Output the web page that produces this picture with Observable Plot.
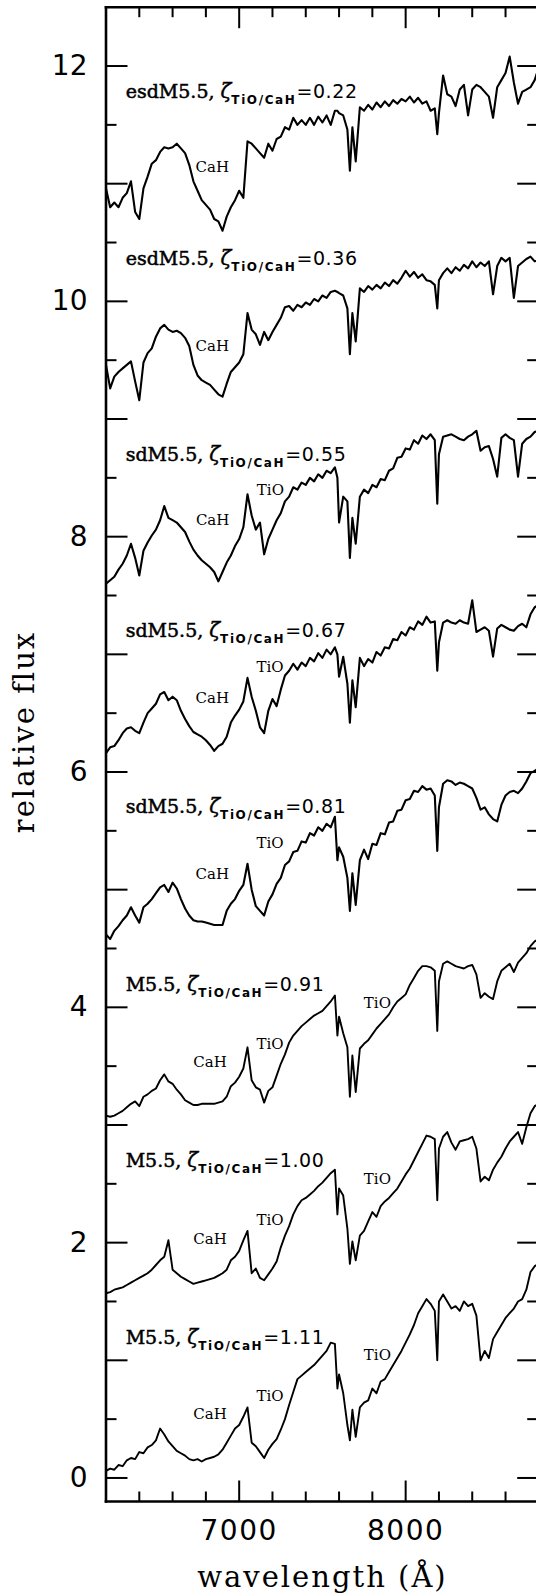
<!DOCTYPE html>
<html>
<head>
<meta charset="utf-8">
<script src="https://cdn.jsdelivr.net/npm/d3@7"></script>
<script src="https://cdn.jsdelivr.net/npm/@observablehq/plot@0.6"></script>
<style>
html, body { margin: 0; padding: 0; background: #fff; overflow: hidden; }
</style>
</head>
<body>
<div id="chart"></div>
<script>
// ---- wavelength grid (Å), shared by all spectra ----
const wavelength = [
  6200,6225,6250,6275,6300,6325,6350,6375,6400,6425,6450,6475,
  6500,6525,6550,6575,6600,6625,6650,6675,6700,6725,6750,6775,
  6800,6825,6850,6875,6900,6925,6950,6975,7000,7025,7050,7075,
  7100,7125,7150,7175,7200,7225,7250,7275,7300,7325,7350,7375,
  7400,7425,7450,7475,7500,7525,7550,7575,
  7590,7600,7625,7650,7665,7680,
  7700,7725,7750,7775,7800,7825,7850,7875,7900,7925,7950,7975,
  8000,8025,8050,8075,8100,8125,8150,8175,
  8190,8200,8225,8250,8275,8300,8325,8350,8375,
  8400,8425,8450,8475,8500,8525,8550,8575,
  8600,8625,8650,8675,8700,8725,8750,8775,8800
];

// ---- relative flux (offset) of each spectrum ----
const fluxEsdM022 = [
  10.96,10.80,10.84,10.80,10.88,10.92,11.02,10.76,10.70,10.96,11.06,11.17,
  11.20,11.27,11.31,11.30,11.31,11.34,11.30,11.26,11.16,11.02,10.94,10.86,
  10.82,10.78,10.70,10.68,10.60,10.72,10.80,10.86,10.94,10.88,11.36,11.34,
  11.30,11.26,11.22,11.34,11.28,11.38,11.40,11.48,11.46,11.56,11.50,11.54,
  11.50,11.56,11.50,11.57,11.52,11.58,11.50,11.62,
  11.62,11.60,11.58,11.46,11.11,11.48,
  11.19,11.65,11.62,11.67,11.63,11.69,11.65,11.70,11.66,11.71,11.68,11.72,
  11.70,11.74,11.69,11.73,11.68,11.70,11.62,11.64,
  11.42,11.60,11.92,11.76,11.74,11.66,11.80,11.84,11.58,
  11.80,11.84,11.82,11.78,11.74,11.56,11.82,11.88,
  11.94,12.08,11.86,11.68,11.78,11.80,11.82,11.88,11.99
];
const fluxEsdM036 = [
  9.46,9.26,9.36,9.40,9.43,9.46,9.49,9.32,9.16,9.48,9.56,9.60,
  9.70,9.77,9.80,9.76,9.74,9.75,9.73,9.69,9.62,9.46,9.37,9.33,
  9.31,9.29,9.25,9.21,9.19,9.30,9.40,9.44,9.48,9.55,9.90,9.76,
  9.72,9.63,9.74,9.67,9.74,9.80,9.86,9.95,9.96,9.92,9.97,9.95,
  9.99,9.97,10.02,10.00,10.05,10.03,10.08,10.09,
  10.08,10.07,10.05,9.94,9.55,9.90,
  9.66,10.11,10.08,10.13,10.10,10.14,10.11,10.16,10.13,10.18,10.15,10.20,
  10.26,10.21,10.25,10.20,10.23,10.18,10.17,10.14,
  9.94,10.18,10.24,10.28,10.24,10.29,10.26,10.31,10.28,
  10.34,10.29,10.33,10.30,10.34,10.06,10.30,10.37,
  10.34,10.37,10.03,10.30,10.33,10.36,10.38,10.34,10.35
];
const fluxSdM055 = [
  7.60,7.63,7.66,7.72,7.77,7.84,7.94,7.82,7.67,7.88,7.95,8.01,
  8.06,8.14,8.26,8.16,8.14,8.12,8.08,8.04,7.96,7.89,7.84,7.80,
  7.77,7.74,7.70,7.62,7.70,7.78,7.84,7.92,7.98,8.08,8.36,8.18,
  8.06,8.12,7.85,7.98,8.06,8.14,8.20,8.30,8.34,8.42,8.40,8.46,
  8.44,8.50,8.47,8.53,8.50,8.56,8.54,8.59,
  8.50,8.12,8.34,8.30,7.82,8.16,
  7.94,8.34,8.40,8.37,8.44,8.42,8.49,8.48,8.56,8.58,8.67,8.68,
  8.75,8.74,8.82,8.79,8.86,8.83,8.87,8.82,
  8.28,8.70,8.85,8.86,8.87,8.85,8.83,8.82,8.85,
  8.87,8.90,8.73,8.76,8.77,8.66,8.51,8.84,
  8.87,8.84,8.82,8.51,8.79,8.83,8.85,8.89,8.90
];
const fluxSdM067 = [
  6.16,6.21,6.22,6.27,6.33,6.37,6.38,6.35,6.33,6.42,6.50,6.54,
  6.58,6.66,6.68,6.61,6.64,6.61,6.52,6.45,6.39,6.34,6.32,6.30,
  6.27,6.23,6.18,6.22,6.24,6.30,6.42,6.48,6.53,6.60,6.80,6.64,
  6.52,6.38,6.33,6.52,6.62,6.56,6.70,6.82,6.86,6.92,6.87,6.93,
  6.90,6.97,6.94,7.01,6.97,7.04,7.00,7.06,
  7.00,6.81,6.98,6.75,6.42,6.78,
  6.55,6.97,6.90,6.96,6.93,7.02,6.99,7.06,7.05,7.13,7.12,7.19,
  7.16,7.23,7.21,7.28,7.25,7.32,7.27,7.28,
  6.86,7.10,7.27,7.29,7.27,7.26,7.29,7.27,7.26,
  7.46,7.19,7.21,7.23,7.20,6.98,7.22,7.25,
  7.23,7.21,7.20,7.24,7.26,7.23,7.34,7.40,7.42
];
const fluxSdM081 = [
  4.62,4.58,4.65,4.69,4.74,4.78,4.85,4.78,4.72,4.85,4.88,4.92,
  4.97,5.02,5.04,4.98,5.06,5.01,4.92,4.84,4.78,4.74,4.73,4.73,
  4.72,4.71,4.70,4.70,4.70,4.82,4.88,4.92,4.99,5.04,5.22,5.00,
  4.86,4.82,4.78,4.90,4.96,5.05,5.10,5.21,5.24,5.32,5.33,5.41,
  5.40,5.48,5.46,5.53,5.50,5.56,5.53,5.62,
  5.25,5.36,5.28,5.10,4.82,5.14,
  4.87,5.25,5.34,5.26,5.39,5.38,5.48,5.47,5.57,5.58,5.67,5.68,
  5.76,5.77,5.84,5.83,5.88,5.85,5.86,5.80,
  5.33,5.70,5.90,5.93,5.92,5.89,5.91,5.90,5.88,
  5.86,5.78,5.68,5.70,5.64,5.60,5.58,5.72,
  5.80,5.83,5.84,5.82,5.86,5.92,5.99,6.01,6.03
];
const fluxM091 = [
  3.08,3.07,3.08,3.10,3.12,3.15,3.18,3.20,3.16,3.24,3.26,3.29,
  3.31,3.38,3.43,3.37,3.35,3.30,3.26,3.21,3.19,3.17,3.17,3.18,
  3.18,3.18,3.18,3.19,3.20,3.24,3.33,3.36,3.41,3.48,3.66,3.38,
  3.32,3.30,3.19,3.29,3.32,3.42,3.52,3.60,3.70,3.76,3.80,3.84,
  3.87,3.90,3.93,3.95,3.97,4.01,4.05,4.10,
  3.76,3.92,3.78,3.66,3.24,3.59,
  3.28,3.65,3.69,3.72,3.77,3.82,3.86,3.90,3.94,4.00,4.05,4.08,
  4.11,4.19,4.25,4.31,4.35,4.35,4.34,4.31,
  3.80,4.22,4.37,4.39,4.37,4.35,4.34,4.33,4.35,
  4.36,4.28,4.08,4.12,4.09,4.07,4.22,4.31,
  4.34,4.37,4.30,4.38,4.42,4.46,4.52,4.56,4.58
];
const fluxM100 = [
  1.57,1.58,1.60,1.61,1.62,1.64,1.66,1.68,1.70,1.72,1.74,1.77,
  1.81,1.85,1.88,2.02,1.77,1.74,1.71,1.69,1.67,1.65,1.66,1.67,
  1.68,1.69,1.70,1.72,1.74,1.77,1.85,1.88,1.93,2.02,2.10,1.74,
  1.78,1.70,1.68,1.73,1.78,1.84,1.96,2.06,2.14,2.24,2.31,2.36,
  2.38,2.41,2.44,2.48,2.51,2.55,2.59,2.62,
  2.24,2.46,2.40,2.12,1.82,2.01,
  1.85,2.06,2.10,2.18,2.26,2.22,2.31,2.35,2.38,2.42,2.46,2.52,
  2.58,2.63,2.70,2.77,2.84,2.91,2.90,2.88,
  2.36,2.80,2.90,2.94,2.85,2.79,2.86,2.87,2.88,
  2.90,2.80,2.52,2.56,2.53,2.62,2.68,2.73,
  2.80,2.86,2.90,2.94,2.84,2.98,3.10,3.16,3.18
];
const fluxM111 = [
  0.06,0.08,0.07,0.11,0.10,0.15,0.17,0.16,0.22,0.21,0.26,0.28,
  0.32,0.42,0.37,0.31,0.27,0.23,0.21,0.19,0.16,0.15,0.16,0.14,
  0.16,0.17,0.18,0.20,0.24,0.30,0.36,0.42,0.45,0.52,0.60,0.30,
  0.27,0.22,0.17,0.24,0.29,0.33,0.41,0.50,0.62,0.73,0.84,0.87,
  0.90,0.93,0.96,1.00,1.04,1.08,1.15,1.14,
  0.76,0.88,0.72,0.45,0.32,0.58,
  0.35,0.60,0.64,0.66,0.76,0.72,0.82,0.84,0.90,0.96,1.02,1.08,
  1.15,1.22,1.30,1.40,1.46,1.52,1.48,1.42,
  1.00,1.50,1.56,1.50,1.44,1.46,1.42,1.50,1.46,
  1.48,1.38,1.00,1.08,1.02,1.18,1.24,1.30,
  1.36,1.40,1.44,1.50,1.52,1.60,1.75,1.80,1.82
];

// ---- spectrum labels ----
const spectralTypes = ["esdM5.5","esdM5.5","sdM5.5","sdM5.5","sdM5.5","M5.5","M5.5","M5.5"];
const zetaValues   = ["0.22","0.36","0.55","0.67","0.81","0.91","1.00","1.11"];
const labelWave    = [6318,6318,6318,6318,6318,6318,6318,6318];
const labelFlux    = [11.73,10.31,8.64,7.15,5.65,4.14,2.64,1.14];

// ---- band annotations ----
const bandText = ["CaH","CaH","CaH","TiO","CaH","TiO","CaH","TiO","CaH","TiO","TiO","CaH","TiO","TiO","CaH","TiO","TiO"];
const bandWave = [6738,6738,6740,7106,6738,7104,6738,7104,6724,7104,7749,6724,7104,7749,6724,7104,7749];
const bandFlux = [11.10,9.58,8.10,8.35,6.59,6.85,5.09,5.35,3.49,3.65,3.99,1.99,2.15,2.50,0.50,0.65,1.00];

// ---- axes ----
const yTickLabels = [0,2,4,6,8,10,12];
const yMajorTicks = [0,1,2,3,4,5,6,7,8,9,10,11,12];
const yMinorTicks = [0.5,1.5,2.5,3.5,4.5,5.5,6.5,7.5,8.5,9.5,10.5,11.5];
const xTickLabels = [7000,8000];
const xMajorTicks = [7000,8000];
const xMinorTicks = [6400,6600,6800,7200,7400,7600,7800,8200,8400,8600];

const fluxSeries = [fluxEsdM022, fluxEsdM036, fluxSdM055, fluxSdM067, fluxSdM081, fluxM091, fluxM100, fluxM111];
const subdwarf = [true, true, true, true, true, false, false, false];
const rows = [];
fluxSeries.forEach((f, k) => {
  if (f.length !== wavelength.length) console.warn("length mismatch", k, f.length);
  wavelength.forEach((w, i) => rows.push({w, f: f[i], k, sd: subdwarf[k]}));
});
const labels = spectralTypes.map((s, i) => ({w: labelWave[i], f: labelFlux[i], t: s + "|" + zetaValues[i]}));
const bands = bandText.map((t, i) => ({w: bandWave[i], f: bandFlux[i], t}));

const tickShape = {draw(ctx, l) { ctx.moveTo(0, 0); ctx.lineTo(0, -l); }};
const tick = (data, ch, frameAnchor, rotate, length) =>
  Plot.vector(data, {[ch]: d => d, frameAnchor, rotate, length, anchor: "start", shape: tickShape,
    stroke: "#000", strokeWidth: 2, strokeLinecap: "butt"});

const svg = Plot.plot({
  width: 536,
  height: 1596,
  marginLeft: 105.5,
  marginRight: 0,
  marginTop: 6.7,
  marginBottom: 95,
  style: {background: "#fff", color: "#000", fontFamily: "DejaVu Sans"},
  x: {domain: [6200, 8786]},
  y: {domain: [-0.2, 12.5]},
  marks: [
    Plot.line(rows.filter(d => d.sd), {x: "w", y: "f", z: "k", stroke: "#000", strokeWidth: 2.1, strokeLinejoin: "round", clip: true}),
    Plot.line(rows.filter(d => !d.sd), {x: "w", y: "f", z: "k", stroke: "#000", strokeWidth: 1.9, strokeLinejoin: "round", clip: true}),
    Plot.frame({anchor: "left", stroke: "#000", strokeWidth: 2.6}),
    Plot.frame({anchor: "top", stroke: "#000", strokeWidth: 2.6}),
    Plot.frame({anchor: "bottom", stroke: "#000", strokeWidth: 2.6}),
    tick(yMajorTicks, "y", "left", 90, 21.5),
    tick(yMinorTicks, "y", "left", 90, 10.5),
    tick(yMajorTicks, "y", "right", -90, 19.3),
    tick(yMinorTicks, "y", "right", -90, 9.3),
    tick(xMajorTicks, "x", "bottom", 0, 21),
    tick(xMinorTicks, "x", "bottom", 0, 10),
    tick(xMajorTicks, "x", "top", 180, 21),
    tick(xMinorTicks, "x", "top", 180, 10),
    Plot.axisY(yTickLabels, {anchor: "left", tickSize: 0, tickPadding: 18.5, fontSize: 28, fontFamily: "DejaVu Sans", label: null, tickFormat: d => String(d)}),
    Plot.axisX(xTickLabels, {anchor: "bottom", tickSize: 0, tickPadding: 19, fontSize: 28, fontFamily: "DejaVu Sans", label: null, tickFormat: d => String(d)}),
    Plot.text(labels, {x: "w", y: "f", text: "t", textAnchor: "start", lineAnchor: "bottom", fill: "#000"}),
    Plot.text(bands, {x: "w", y: "f", text: "t", textAnchor: "start", lineAnchor: "bottom", fontSize: 15, fontFamily: "DejaVu Serif", fill: "#000"}),
    Plot.text([{t: "relative flux", f: 6.34}], {y: "f", text: "t", frameAnchor: "left", textAnchor: "middle", dx: -72.5, rotate: -90, lineAnchor: "bottom", fontSize: 29, fontFamily: "DejaVu Serif", fill: "#000"}),
    Plot.text([{t: "wavelength (Å)", w: 7500}], {x: "w", text: "t", frameAnchor: "bottom", textAnchor: "middle", dy: 85.7, lineAnchor: "bottom", fontSize: 29, fontFamily: "DejaVu Serif", fill: "#000"})
  ]
});

d3.select(svg).selectAll("text").each(function() {
  const s = this.textContent;
  if (s === "wavelength (Å)" || s === "relative flux") {
    this.setAttribute("letter-spacing", "2");
    return;
  }
  if (s === "7000" || s === "8000") {
    this.setAttribute("letter-spacing", "1.5");
    return;
  }
  if (!s.includes("|")) return;
  const [sp, z] = s.split("|");
  const t = d3.select(this).text(null);
  t.append("tspan").attr("font-family", "DejaVu Serif").attr("font-size", 19)
    .attr("stroke", "#000").attr("stroke-width", 0.5).text(sp + ",");
  t.append("tspan").attr("dx", 6).attr("font-family", "DejaVu Serif").attr("font-style", "italic").attr("font-size", 20)
    .attr("stroke", "#000").attr("stroke-width", 0.4).text("ζ");
  t.append("tspan").attr("dy", 6).attr("font-family", "DejaVu Sans").attr("font-weight", "bold").attr("font-size", 12)
    .attr("letter-spacing", 1.6).text("TiO/CaH");
  t.append("tspan").attr("dx", 0).attr("dy", -6).attr("font-family", "DejaVu Sans").attr("font-size", 19)
    .attr("letter-spacing", 0.6).text("=" + z);
});

document.getElementById("chart").appendChild(svg);
</script>
</body>
</html>
